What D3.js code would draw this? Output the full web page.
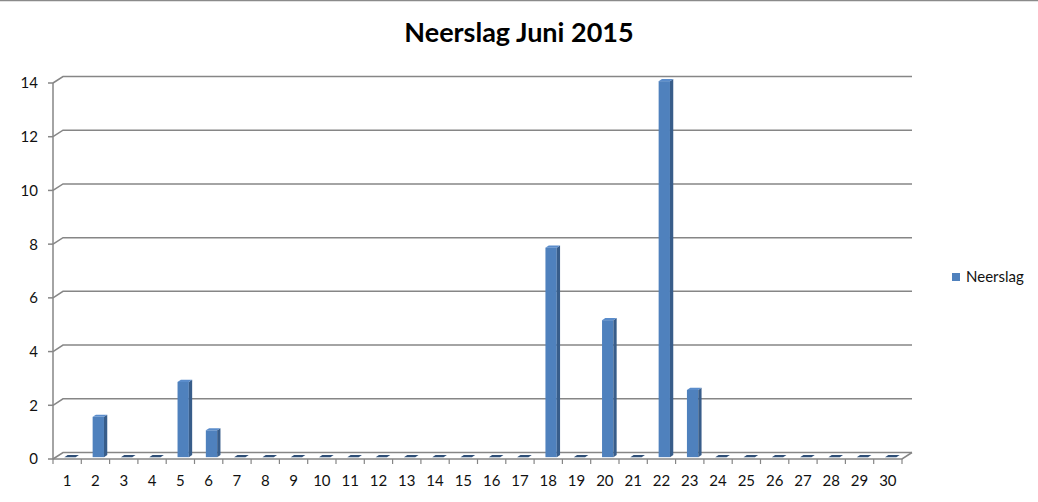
<!DOCTYPE html>
<html>
<head>
<meta charset="utf-8">
<script src="https://cdn.jsdelivr.net/npm/d3@7"></script>
<style>
  body { margin: 0; background: #fff; }
  svg { display: block; font-family: Lato, "Open Sans", sans-serif; }
</style>
</head>
<body>
<div id="vis"></div>
<script>
// data
const days = d3.range(1, 31).map(String);
const neerslag = [0, 1.5, 0, 0, 2.8, 1.0, 0, 0, 0, 0,
                  0, 0, 0, 0, 0, 0, 0, 7.8, 0, 5.1,
                  0, 14, 2.5, 0, 0, 0, 0, 0, 0, 0];
const yTicks = [0, 2, 4, 6, 8, 10, 12, 14];
const seriesName = "Neerslag";
const title = "Neerslag Juni 2015";

// frame
const WIDTH = 1038, HEIGHT = 502;
const PLOT = {left: 53, right: 902, top: 83, bottom: 459};
// depth of the 3D box (back wall offset)
const DEPTH = {dx: 10, dy: -6.5};

const svg = d3.select("#vis").append("svg")
    .attr("width", WIDTH)
    .attr("height", HEIGHT);

// border at top
svg.append("line")
    .attr("x1", 0).attr("x2", WIDTH)
    .attr("y1", 0.5).attr("y2", 0.5)
    .attr("stroke", "#8a8a8a").attr("stroke-width", 1.5);

const X = d3.scaleBand()
    .domain(days)
    .range([PLOT.left, PLOT.right])
    .paddingInner(0).paddingOuter(0);

const Y = d3.scaleLinear()
    .domain([0, 14])
    .range([PLOT.bottom, PLOT.top]);

const GRID = "#868686";

// gridlines: side wall diagonal + back wall horizontal
svg.append("g").selectAll("path")
  .data(yTicks)
  .enter()
  .append("path")
    .attr("d", d => {
      const y = Y(d);
      return "M" + PLOT.left + "," + y +
             "L" + (PLOT.left + DEPTH.dx) + "," + (y + DEPTH.dy) +
             "L" + (PLOT.right + DEPTH.dx) + "," + (y + DEPTH.dy);
    })
    .attr("fill", "none")
    .attr("stroke", GRID)
    .attr("stroke-width", 1.5);

// floor outline (front edge and right edge)
svg.append("path")
    .attr("d", "M" + PLOT.left + "," + PLOT.bottom +
               "L" + PLOT.right + "," + PLOT.bottom +
               "L" + (PLOT.right + DEPTH.dx) + "," + (PLOT.bottom + DEPTH.dy))
    .attr("fill", "none")
    .attr("stroke", GRID)
    .attr("stroke-width", 1.5);

// y axis line
svg.append("line")
    .attr("x1", PLOT.left).attr("x2", PLOT.left)
    .attr("y1", PLOT.top).attr("y2", PLOT.bottom)
    .attr("stroke", GRID).attr("stroke-width", 1.5);

// y ticks + labels
const yAxis = svg.append("g");
yAxis.selectAll("line")
  .data(yTicks).enter().append("line")
    .attr("x1", PLOT.left - 5).attr("x2", PLOT.left)
    .attr("y1", d => Y(d)).attr("y2", d => Y(d))
    .attr("stroke", GRID).attr("stroke-width", 1.5);
yAxis.selectAll("text")
  .data(yTicks).enter().append("text")
    .attr("x", 38)
    .attr("y", d => Y(d))
    .attr("dy", "0.36em")
    .attr("text-anchor", "end")
    .attr("font-size", 15)
    .attr("fill", "#111")
    .text(d => d);

// x ticks at category boundaries + labels
const xAxis = svg.append("g");
const bounds = days.map(d => X(d)).concat([PLOT.right]);
xAxis.selectAll("line")
  .data(bounds).enter().append("line")
    .attr("x1", d => d).attr("x2", d => d)
    .attr("y1", PLOT.bottom).attr("y2", PLOT.bottom + 5)
    .attr("stroke", GRID).attr("stroke-width", 1.2);
xAxis.selectAll("text")
  .data(days).enter().append("text")
    .attr("x", d => X(d) + X.bandwidth() / 2)
    .attr("y", 486)
    .attr("text-anchor", "middle")
    .attr("font-size", 15)
    .attr("fill", "#111")
    .text(d => d);

// 3D bars
const BAR_W = X.bandwidth() * 0.4;
const FRONT_DEPTH = 0.285;   // fraction of the box depth where the bar face sits
const BAR_DEPTH = 0.33;
const fx = FRONT_DEPTH * DEPTH.dx, fy = FRONT_DEPTH * DEPTH.dy;
const bx = BAR_DEPTH * DEPTH.dx, by = BAR_DEPTH * DEPTH.dy;

const bars = svg.append("g").selectAll("g")
  .data(days.map((d, i) => ({day: d, value: neerslag[i]})))
  .enter()
  .append("g");

bars.each(function(d) {
  const g = d3.select(this);
  const x0 = X(d.day) + (X.bandwidth() - BAR_W) / 2 + fx;
  const x1 = x0 + BAR_W;
  const yb = Y(0) + fy;
  const yt = Y(d.value) + fy;
  if (d.value > 0) {
    // front face
    g.append("rect")
        .attr("x", x0).attr("y", yt)
        .attr("width", BAR_W).attr("height", yb - yt)
        .attr("fill", "#4f81bd");
    // side face
    g.append("path")
        .attr("d", "M" + x1 + "," + yt + "L" + (x1 + bx) + "," + (yt + by) +
                   "L" + (x1 + bx) + "," + (yb + by) + "L" + x1 + "," + yb + "Z")
        .attr("fill", "#385d8a");
  }
  // top face (floor sliver for zero values)
  g.append("path")
      .attr("d", "M" + x0 + "," + yt + "L" + x1 + "," + yt +
                 "L" + (x1 + bx) + "," + (yt + by) + "L" + (x0 + bx) + "," + (yt + by) + "Z")
      .attr("fill", d.value > 0 ? "#5a8ccb" : "#2f4f77");
});

// title
svg.append("text")
    .attr("x", 519).attr("y", 42)
    .attr("text-anchor", "middle")
    .attr("font-size", 27)
    .attr("font-weight", "bold")
    .attr("fill", "#000")
    .text(title);

// legend
const legend = svg.append("g").attr("transform", "translate(952,273)");
legend.append("rect")
    .attr("width", 8).attr("height", 8)
    .attr("fill", "#4f81bd");
legend.append("text")
    .attr("x", 14).attr("y", 9)
    .attr("font-size", 15)
    .attr("fill", "#111")
    .text(seriesName);
</script>
</body>
</html>
